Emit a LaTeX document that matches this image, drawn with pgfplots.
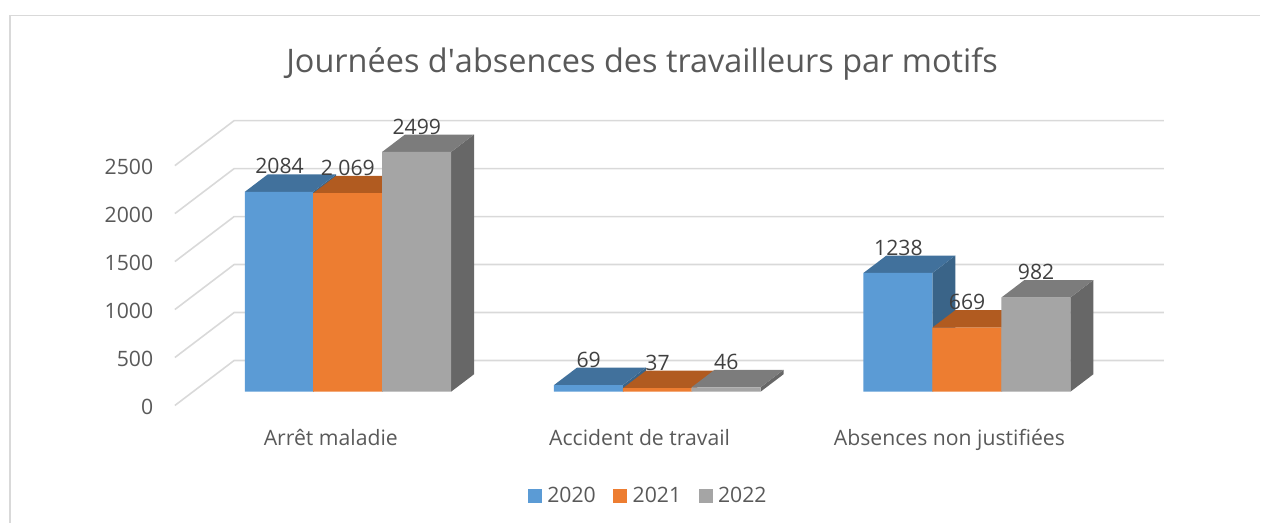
\documentclass[border=0pt]{standalone}
\usepackage{fontspec}
\setmainfont{Open Sans}
\usepackage{pgfplots}
\pgfplotsset{compat=1.18}

\definecolor{bluef}{HTML}{5B9BD5}\definecolor{bluet}{HTML}{41719C}\definecolor{blues}{HTML}{3A6488}
\definecolor{orangef}{HTML}{ED7D31}\definecolor{oranget}{HTML}{B15B20}\definecolor{oranges}{HTML}{9E5120}
\definecolor{grayf}{HTML}{A5A5A5}\definecolor{grayt}{HTML}{7C7C7C}\definecolor{grays}{HTML}{676767}
\definecolor{gridc}{HTML}{D9D9D9}\definecolor{txt}{HTML}{595959}\definecolor{lab}{HTML}{404040}

% x is in picture pixels, y in data units (1 px = 10.417 units)
% #1 left edge, #2 right edge, #3 value, #4 colour prefix
\newcommand{\threedbar}[4]{%
  \pgfmathsetmacro{\xa}{#1+23}\pgfmathsetmacro{\xb}{#2+23}\pgfmathsetmacro{\vb}{#3+182}%
  \addplot[forget plot,fill=#4s,draw=none] coordinates {(#2,0)(\xb,182)(\xb,\vb)(#2,#3)(#2,0)};
  \addplot[forget plot,fill=#4t,draw=none] coordinates {(#1,#3)(#2,#3)(\xb,\vb)(\xa,\vb)(#1,#3)};
  \addplot[forget plot,fill=#4f,draw=none] coordinates {(#1,0)(#2,0)(#2,#3)(#1,#3)(#1,0)};
}
\newcommand{\gridline}[1]{%
  \pgfmathsetmacro{\va}{#1-143}\pgfmathsetmacro{\vb}{#1+326}%
  \addplot[forget plot,gridc,line width=1.2pt] coordinates {(175,\va)(234.3,\vb)(1164.7,\vb)};
}

\begin{document}
\begin{tikzpicture}
\begin{axis}[
  scale only axis,width=945.75pt,height=392.25pt,
  xmin=0,xmax=1261,ymin=-1364.6,ymax=4083.3,
  clip=false,
  axis line style={draw=none},tick style={draw=none},
  font=\fontsize{15.9pt}{18pt}\selectfont,
  /pgf/number format/assume math mode=true,
  /pgf/number format/1000 sep={},
  ytick={0,500,1000,1500,2000,2500},
  yticklabel style={text=txt,anchor=east,xshift=118.5pt,yshift=-11.5pt},
  xtick={331,640,950},
  xticklabels={Arrêt maladie,Accident de travail,Absences non justifiées},
  xticklabel style={text=txt,anchor=base,yshift=58pt},
  title={Journées d\textquotesingle absences des travailleurs par motifs},
  title style={at={(axis description cs:0.5095,0.8622)},anchor=center,yshift=0pt,text=txt,font=\fontsize{24.35pt}{28pt}\selectfont},
  legend columns=3,
  legend style={at={(axis description cs:0.5147,0.0516)},anchor=center,draw=none,fill=none,text=txt,
    /tikz/every odd column/.style={column sep=2pt},
    /tikz/every even column/.style={column sep=11.2pt},inner sep=0pt},
  legend image code/.code={\fill[#1] (0pt,-5.25pt) rectangle (10.5pt,5.25pt);},
]
\draw[gridc,line width=1.2pt] (axis cs:10,-1364.6) -- (axis cs:10,3922) -- (axis cs:1261,3922);

\gridline{0}\gridline{500}\gridline{1000}\gridline{1500}\gridline{2000}\gridline{2500}

% Arret maladie
\threedbar{245}{313.3}{2084}{blue}
\threedbar{313.3}{382.3}{2069}{orange}
\threedbar{382.3}{451.3}{2499}{gray}
% Accident de travail
\threedbar{554.3}{623.3}{69}{blue}
\threedbar{623.3}{692}{37}{orange}
\threedbar{692}{761}{46}{gray}
% Absences non justifiees
\threedbar{864}{933}{1238}{blue}
\threedbar{933}{1002}{669}{orange}
\threedbar{1002}{1071}{982}{gray}

% legend swatches only: single points at the bar corners
\addplot[fill=bluef,draw=none] coordinates {(245,0)};
\addplot[fill=orangef,draw=none] coordinates {(313.3,0)};
\addplot[fill=grayf,draw=none] coordinates {(382.3,0)};
\legend{2020,2021,2022}

\addplot[forget plot,draw=none,mark=none,point meta=explicit symbolic,nodes near coords,
  every node near coord/.append style={anchor=center,yshift=19.1pt,text=lab,inner sep=0pt}]
  coordinates {
  (279.7,2084)[2084] (348,2069)[2 069] (417,2499)[2499]
  (589,69)[69] (658,37)[37] (726.7,46)[46]
  (899,1238)[1238] (967.7,669)[669] (1036.7,982)[982]};
\end{axis}
\end{tikzpicture}
\end{document}
